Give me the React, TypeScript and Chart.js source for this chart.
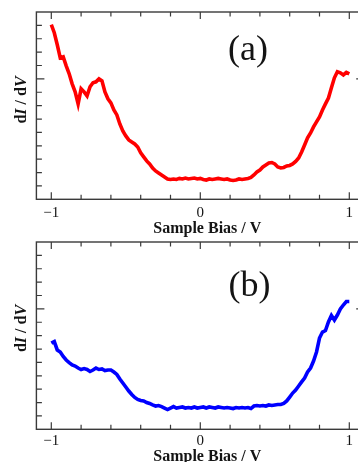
import React, { useEffect, useRef } from "react";
import { Chart, registerables } from "chart.js";
Chart.register(...registerables);

// ---------- data ----------
const biasV = [
  -1.0, -0.98, -0.96, -0.94, -0.92, -0.9, -0.88, -0.86, -0.84, -0.82,
  -0.8, -0.78, -0.76, -0.74, -0.72, -0.7, -0.68, -0.66, -0.64, -0.62,
  -0.6, -0.58, -0.56, -0.54, -0.52, -0.5, -0.48, -0.46, -0.44, -0.42,
  -0.4, -0.38, -0.36, -0.34, -0.32, -0.3, -0.28, -0.26, -0.24, -0.22,
  -0.2, -0.18, -0.16, -0.14, -0.12, -0.1, -0.08, -0.06, -0.04, -0.02,
  0.0, 0.02, 0.04, 0.06, 0.08, 0.1, 0.12, 0.14, 0.16, 0.18,
  0.2, 0.22, 0.24, 0.26, 0.28, 0.3, 0.32, 0.34, 0.36, 0.38,
  0.4, 0.42, 0.44, 0.46, 0.48, 0.5, 0.52, 0.54, 0.56, 0.58,
  0.6, 0.62, 0.64, 0.66, 0.68, 0.7, 0.72, 0.74, 0.76, 0.78,
  0.8, 0.82, 0.84, 0.86, 0.88, 0.9, 0.92, 0.94, 0.96, 0.98,
  1.0,
];

const redDIdV = [
  13.05, 12.45, 11.55, 10.57, 10.65, 9.98, 9.38, 8.63, 8.03, 7.13,
  8.26, 8.03, 7.73, 8.41, 8.71, 8.78, 9.0, 8.85, 8.03, 7.51,
  7.21, 6.68, 6.31, 5.63, 5.11, 4.74, 4.44, 4.29, 4.14, 3.91,
  3.47, 3.17, 2.87, 2.64, 2.34, 2.12, 1.97, 1.82, 1.67, 1.52,
  1.48, 1.52, 1.48, 1.56, 1.52, 1.59, 1.52, 1.56, 1.59, 1.52,
  1.56, 1.48, 1.44, 1.52, 1.48, 1.52, 1.56, 1.52, 1.48, 1.52,
  1.44, 1.41, 1.44, 1.52, 1.48, 1.52, 1.56, 1.63, 1.82, 2.04,
  2.19, 2.42, 2.57, 2.72, 2.75, 2.64, 2.42, 2.34, 2.38, 2.49,
  2.53, 2.64, 2.83, 3.09, 3.54, 4.06, 4.59, 4.96, 5.41, 5.79,
  6.16, 6.68, 7.13, 7.57, 8.33, 9.08, 9.53, 9.45, 9.3, 9.49,
  9.38,
];

const blueDIdV = [
  6.45, 6.56, 5.93, 5.78, 5.44, 5.18, 4.99, 4.81, 4.73, 4.58,
  4.47, 4.54, 4.47, 4.32, 4.43, 4.58, 4.47, 4.51, 4.39, 4.43,
  4.43, 4.28, 4.1, 3.76, 3.46, 3.16, 2.86, 2.6, 2.38, 2.23,
  2.15, 2.12, 2.0, 1.93, 1.82, 1.74, 1.78, 1.7, 1.59, 1.48,
  1.59, 1.7, 1.59, 1.63, 1.67, 1.59, 1.63, 1.59, 1.67, 1.59,
  1.63, 1.67, 1.59, 1.67, 1.63, 1.59, 1.67, 1.63, 1.59, 1.63,
  1.59, 1.55, 1.63, 1.59, 1.63, 1.59, 1.63, 1.55, 1.74, 1.78,
  1.74, 1.78, 1.74, 1.82, 1.78, 1.82, 1.85, 1.85, 1.93, 2.12,
  2.41, 2.71, 2.94, 3.24, 3.54, 3.83, 4.28, 4.58, 5.1, 5.78,
  6.82, 7.27, 7.38, 8.02, 8.51, 8.17, 8.54, 8.99, 9.29, 9.55,
  9.55,
];

const xTickValues = [-1, -0.8, -0.6, -0.4, -0.2, 0, 0.2, 0.4, 0.6, 0.8, 1];
const xMajorTicks = [-1, 0, 1];
const xTickLabels = ["\u22121", "0", "1"];
const yTickValues = [1, 2, 3, 4, 5, 6, 7, 8, 9, 10, 11, 12, 13];
const yMajorTicks = [9];
const xTitle = "Sample Bias / V";
const yTitleParts: [string, boolean][] = [
  ["d", false],
  ["I", true],
  [" / d", false],
  ["V", true],
];
const panelLabels = ["(a)", "(b)"];
const panelLabelPos = [
  { x: 0.32, y: 11.1 },
  { x: 0.33, y: 10.64 },
];

const SERIF = "'Liberation Serif', 'Times New Roman', serif";

type PanelCfg = {
  label: string;
  labelPos: { x: number; y: number };
  tickLabelOffset: number;
  titleBaseline: number;
  yTitleCenter: number;
};

function makeFramePlugin(cfg: PanelCfg) {
  return {
    id: "frameTicks",
    afterDatasetsDraw(chart: any) {
      const ctx = chart.ctx as CanvasRenderingContext2D;
      const xs = chart.scales.x;
      const ys = chart.scales.y;
      const { left, right, top, bottom } = chart.chartArea;
      ctx.save();
      ctx.strokeStyle = "#3a3a3a";
      ctx.lineWidth = 1.4;
      ctx.strokeRect(left, top, right - left, bottom - top);

      ctx.beginPath();
      for (const v of xTickValues) {
        const px = xs.getPixelForValue(v);
        const len = xMajorTicks.includes(v) ? 7 : 4.5;
        ctx.moveTo(px, bottom);
        ctx.lineTo(px, bottom - len);
        ctx.moveTo(px, top);
        ctx.lineTo(px, top + len);
      }
      for (const v of yTickValues) {
        const py = ys.getPixelForValue(v);
        const len = yMajorTicks.includes(v) ? 8 : 5.5;
        ctx.moveTo(left, py);
        ctx.lineTo(left + len, py);
        ctx.moveTo(right, py);
        ctx.lineTo(right - len, py);
      }
      ctx.lineWidth = 1.2;
      ctx.stroke();

      ctx.fillStyle = "#141414";
      ctx.font = `15px ${SERIF}`;
      ctx.textAlign = "center";
      ctx.textBaseline = "middle";
      xMajorTicks.forEach((v, i) => {
        ctx.fillText(xTickLabels[i], xs.getPixelForValue(v), bottom + cfg.tickLabelOffset);
      });

      ctx.font = `bold 16px ${SERIF}`;
      ctx.textBaseline = "alphabetic";
      ctx.fillText(xTitle, xs.getPixelForValue(0) + 7, bottom + cfg.titleBaseline);

      // y title with italic parts
      ctx.save();
      ctx.translate(26, cfg.yTitleCenter);
      ctx.rotate(-Math.PI / 2);
      ctx.textAlign = "left";
      ctx.textBaseline = "alphabetic";
      let total = 0;
      const widths: number[] = [];
      for (const [t, it] of yTitleParts) {
        ctx.font = `${it ? "italic " : ""}bold 16px ${SERIF}`;
        const w = ctx.measureText(t).width;
        widths.push(w);
        total += w;
      }
      let xx = -total / 2;
      yTitleParts.forEach(([t, it], i) => {
        ctx.font = `${it ? "italic " : ""}bold 16px ${SERIF}`;
        ctx.fillText(t, xx, 0);
        xx += widths[i];
      });
      ctx.restore();

      ctx.font = `36px ${SERIF}`;
      ctx.textAlign = "center";
      ctx.textBaseline = "middle";
      ctx.fillText(cfg.label, xs.getPixelForValue(cfg.labelPos.x), ys.getPixelForValue(cfg.labelPos.y));
      ctx.restore();
    },
  };
}

function Panel(props: {
  values: number[];
  color: string;
  cfg: PanelCfg;
  top: number;
  height: number;
  padTop: number;
  padBottom: number;
}) {
  const ref = useRef<HTMLCanvasElement | null>(null);
  useEffect(() => {
    if (!ref.current) return;
    const data = biasV.map((x, i) => ({ x, y: props.values[i] }));
    const chart = new Chart(ref.current, {
      type: "line",
      data: {
        datasets: [
          {
            data,
            borderColor: props.color,
            borderWidth: 3.6,
            pointRadius: 0,
            tension: 0,
            fill: false,
          },
        ],
      },
      options: {
        animation: false,
        responsive: false,
        devicePixelRatio: 1,
        layout: {
          padding: { left: 36.4, right: 380 - 364.2, top: props.padTop, bottom: props.padBottom },
        },
        plugins: { legend: { display: false }, tooltip: { enabled: false } },
        scales: {
          x: { type: "linear", min: -1.1, max: 1.1, display: false },
          y: { type: "linear", min: 0, max: 14, display: false },
        },
      },
      plugins: [makeFramePlugin(props.cfg)],
    } as any);
    return () => chart.destroy();
  }, []);
  return (
    <canvas
      ref={ref}
      width={380}
      height={props.height}
      style={{ position: "absolute", left: 0, top: props.top, width: 380, height: props.height }}
    />
  );
}

export default function App() {
  return (
    <div
      style={{
        position: "fixed",
        left: 0,
        top: 0,
        width: 358,
        height: 462,
        overflow: "hidden",
        background: "#fff",
      }}
    >
      <Panel
        values={redDIdV}
        color="#ff0000"
        top={0}
        height={245}
        padTop={12}
        padBottom={245 - 199.3}
        cfg={{
          label: panelLabels[0],
          labelPos: panelLabelPos[0],
          tickLabelOffset: 13.7,
          titleBaseline: 33.4,
          yTitleCenter: 100,
        }}
      />
      <Panel
        values={blueDIdV}
        color="#0000ff"
        top={232}
        height={240}
        padTop={10}
        padBottom={240 - 197.3}
        cfg={{
          label: panelLabels[1],
          labelPos: panelLabelPos[1],
          tickLabelOffset: 11.5,
          titleBaseline: 31.7,
          yTitleCenter: 96.5,
        }}
      />
    </div>
  );
}
